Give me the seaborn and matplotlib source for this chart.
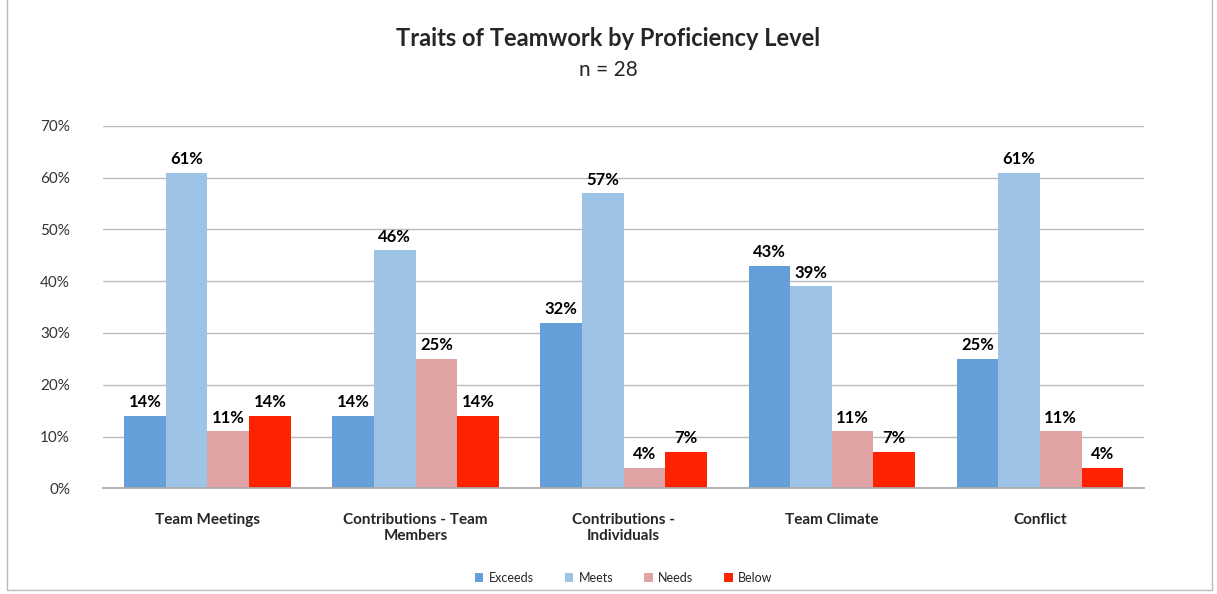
import matplotlib
matplotlib.use("Agg")
import matplotlib.pyplot as plt
import seaborn as sns
import pandas as pd

categories = ["Team Meetings", "Contributions - Team\nMembers", "Contributions -\nIndividuals",
              "Team Climate", "Conflict"]
levels = ["Exceeds", "Meets", "Needs", "Below"]
exceeds = [14, 14, 32, 43, 25]
meets = [61, 46, 57, 39, 61]
needs = [11, 25, 4, 11, 11]
below = [14, 14, 7, 7, 4]
yticks = [0, 10, 20, 30, 40, 50, 60, 70]
colors = ["#659ED9", "#9DC3E6", "#E0A3A3", "#FF2200"]

rows = []
for lvl, vals in zip(levels, [exceeds, meets, needs, below]):
    for c, v in zip(categories, vals):
        rows.append({"Category": c, "Level": lvl, "Value": v})
df = pd.DataFrame(rows)

sns.set_theme(style="white")
plt.rcParams["font.family"] = ["Lato", "DejaVu Sans"]

fig = plt.figure(figsize=(12.17, 5.94), dpi=100)
ax = fig.add_axes([0.085, 0.178, 0.855, 0.61])

sns.barplot(data=df, x="Category", y="Value", hue="Level", hue_order=levels,
            palette=colors, width=0.8, dodge=True, ax=ax, saturation=1,
            edgecolor="none", legend=True)

for cont in ax.containers:
    ax.bar_label(cont, labels=[f"{int(v)}%" for v in cont.datavalues], padding=4,
                 fontsize=12, fontweight="bold", color="black")

ax.set_ylim(0, 70)
ax.set_yticks(yticks)
ax.set_yticklabels([f"{t}%" for t in yticks], fontsize=11, color="#333333")
ax.tick_params(axis="y", pad=18)
ax.yaxis.grid(True, color="#BBBBBB", linewidth=1)
ax.set_axisbelow(True)
ax.set_xlabel("")
ax.set_ylabel("")
ax.tick_params(axis="x", labelsize=11, pad=12)
for lab in ax.get_xticklabels():
    lab.set_fontweight("bold")
for s in ["top", "right", "left"]:
    ax.spines[s].set_visible(False)
ax.spines["bottom"].set_color("#AAAAAA")

fig.text(0.5, 0.936, "Traits of Teamwork by Proficiency Level", ha="center", va="center",
         fontsize=17, fontweight="bold")
fig.text(0.5, 0.882, "n = 28", ha="center", va="center", fontsize=15)

ax.legend(loc="upper center", bbox_to_anchor=(0.5, -0.2), ncol=4, frameon=False,
          fontsize=9, handlelength=0.7, handleheight=0.7, columnspacing=2.5,
          handletextpad=0.4)

fig.patches.append(plt.Rectangle((0.006, 0.006), 0.99, 1.2, transform=fig.transFigure,
                                 fill=False, edgecolor="#BBBBBB", linewidth=1))
fig.savefig("out.png", dpi=100)
